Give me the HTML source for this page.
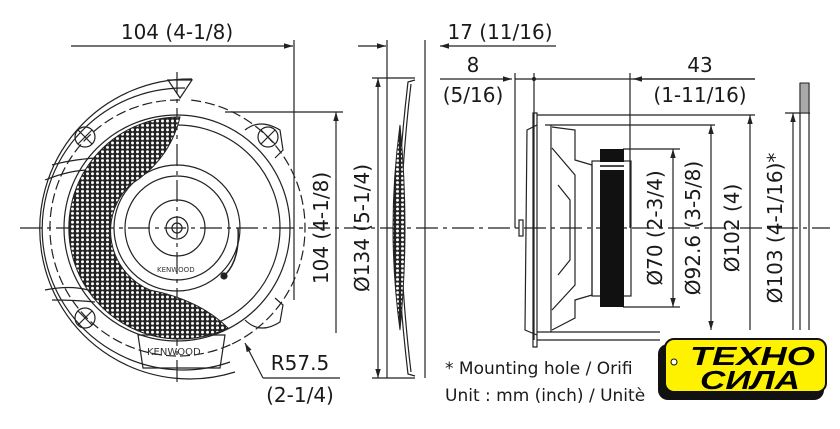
<!DOCTYPE html>
<html><head><meta charset="utf-8"><style>
html,body{margin:0;padding:0;background:#fff;width:840px;height:429px;overflow:hidden}
svg{display:block}
text{font-family:"DejaVu Sans","Liberation Sans",sans-serif;fill:#1a1a1a}
</style></head><body>
<svg width="840" height="429" viewBox="0 0 840 429" xmlns="http://www.w3.org/2000/svg">
<defs>
<pattern id="mesh" width="5" height="4.4" patternUnits="userSpaceOnUse">
<rect width="5" height="4.4" fill="#222"/>
<circle cx="2.5" cy="2.2" r="1.5" fill="#fff"/>
</pattern>
<marker id="ar" viewBox="0 0 10 10" refX="10" refY="5" markerWidth="9" markerHeight="9" orient="auto-start-reverse" markerUnits="userSpaceOnUse"><path d="M0,2 L10,5 L0,8z" fill="#222"/></marker>
</defs>
<g stroke="#222" fill="none" stroke-width="1.2">
<line x1="20" y1="228" x2="830" y2="228" stroke-dasharray="22,5,4,5"/>
<line x1="177" y1="72" x2="177" y2="382" stroke-dasharray="22,5,4,5"/>
<path d="M192,79 A150,150 0 1 0 235,372"/>
<path d="M185,88 A141,141 0 1 0 230,362"/>
<path d="M180,100 A128,128 0 1 0 232,344" stroke-dasharray="10,4"/>
<path d="M232,344 A128,128 0 0 0 305,228 A128,128 0 0 0 190,100" stroke-dasharray="10,4"/>
<circle cx="177" cy="228" r="113"/>
<circle cx="177" cy="228" r="103"/>
<circle cx="177" cy="228" r="63"/>
<circle cx="177" cy="228" r="52"/>
<circle cx="177" cy="228" r="28"/>
<circle cx="177" cy="228" r="11"/>
<circle cx="177" cy="228" r="5"/>
<path d="M168,80 L192,80 L180,98z"/>
<circle cx="85" cy="137" r="10"/><path d="M78,130 L92,144 M92,130 L78,144"/>
<circle cx="85" cy="318" r="10"/><path d="M78,311 L92,325 M92,311 L78,325"/>
<circle cx="268" cy="137" r="10"/><path d="M261,130 L275,144 M275,130 L261,144"/>
<path d="M245,130 Q260,118 280,130 L283,150 L275,158"/>
<path d="M245,320 Q260,335 280,322 L283,305 L275,298"/>
<path d="M138,335 L225,335 L220,368 L143,368z"/>
<path d="M238,228 Q240,260 225,275" stroke-width="1.5"/>
<circle cx="224" cy="276" r="3" fill="#222"/>
<path d="M52,165 Q70,160 95,158 M45,180 Q70,170 90,170 M45,290 Q70,285 88,290 M52,300 Q75,300 95,302"/>
</g>
<path d="M180,117 A111,111 0 1 0 228,328 Q200,300 150,290 A64,64 0 0 1 130,185 Q170,160 180,117z" fill="url(#mesh)" stroke="#222"/>
<text x="157" y="272" font-size="7" style="fill:#333">KENWOOD</text>
<text x="147" y="355" font-size="10" style="fill:#333">KENWOOD</text>
<g stroke="#222" stroke-width="1.2">
<line x1="71" y1="46" x2="293" y2="46" marker-end="url(#ar)"/>
<line x1="294" y1="40" x2="294" y2="300"/>
<line x1="225" y1="112" x2="343" y2="112"/>
<line x1="336" y1="112" x2="336" y2="333" marker-start="url(#ar)"/>
<line x1="245" y1="343" x2="263" y2="378" marker-start="url(#ar)"/>
<line x1="263" y1="378" x2="340" y2="378"/>
</g>
<text x="177" y="39" font-size="20" text-anchor="middle">104 (4-1/8)</text>
<text transform="translate(328,228) rotate(-90)" font-size="20" text-anchor="middle">104 (4-1/8)</text>
<text x="300" y="370" font-size="20" text-anchor="middle">R57.5</text>
<text x="300" y="402" font-size="20" text-anchor="middle">(2-1/4)</text>
<g stroke="#222" fill="none" stroke-width="1.2">
<line x1="372" y1="78" x2="415" y2="78"/>
<line x1="372" y1="378" x2="415" y2="378"/>
<line x1="378" y1="78" x2="378" y2="378" marker-start="url(#ar)" marker-end="url(#ar)"/>
<line x1="387" y1="40" x2="387" y2="378"/>
<line x1="358" y1="46" x2="386" y2="46" marker-end="url(#ar)"/>
<line x1="425" y1="40" x2="425" y2="378"/>
<line x1="440" y1="46" x2="556" y2="46" marker-start="url(#ar)"/>
<path d="M415,80 L408,82 Q400,150 396,228 Q400,306 408,374 L415,376"/>
<path d="M411,84 Q403,150 400,228 Q403,306 411,372"/>
</g>
<path d="M400,125 Q386,228 400,330 Q410,228 400,125z" fill="url(#mesh)" stroke="#222"/>
<text transform="translate(369,228) rotate(-90)" font-size="20" text-anchor="middle">Ø134 (5-1/4)</text>
<text x="500" y="39" font-size="20" text-anchor="middle">17 (11/16)</text>
<g stroke="#222" fill="none" stroke-width="1.2">
<line x1="440" y1="79" x2="512" y2="79" marker-end="url(#ar)"/>
<line x1="515" y1="73" x2="515" y2="228"/>
<line x1="534" y1="73" x2="534" y2="340"/>
<circle cx="534" cy="79" r="1.5" fill="#222"/>
<line x1="515" y1="79" x2="755" y2="79"/>
<line x1="755" y1="79" x2="633" y2="79" marker-end="url(#ar)"/>
<line x1="630" y1="73" x2="630" y2="228"/>
<path d="M533,113 L537,113 L537,347 L533,347z"/>
<line x1="537" y1="115" x2="755" y2="115"/>
<line x1="545" y1="125" x2="715" y2="125"/>
<line x1="537" y1="340" x2="660" y2="340"/>
<line x1="537" y1="332" x2="660" y2="332"/>
<path d="M537,125 L527,130 L525,330 L537,335"/>
<path d="M551,125 L551,332"/>
<path d="M552,127 L575,130 L575,160 L592,165 L592,295 L575,300 L575,318 L552,330"/>
<path d="M552,148 L575,175 L575,285 L552,310"/>
<path d="M558,185 L570,200 L570,260 L558,275"/>
<rect x="592" y="161" width="39" height="135"/>
<rect x="519" y="220" width="4" height="16"/>
<line x1="623" y1="149" x2="680" y2="149"/>
<line x1="623" y1="307" x2="680" y2="307"/>
<line x1="673" y1="149" x2="673" y2="307" marker-start="url(#ar)" marker-end="url(#ar)"/>
<line x1="711" y1="125" x2="711" y2="330" marker-start="url(#ar)" marker-end="url(#ar)"/>
<line x1="750" y1="115" x2="750" y2="330" marker-start="url(#ar)"/>
<line x1="785" y1="113" x2="810" y2="113"/>
<line x1="793" y1="113" x2="793" y2="330" marker-start="url(#ar)"/>
<line x1="800" y1="83" x2="800" y2="330"/>
<line x1="809" y1="83" x2="809" y2="330"/>
</g>
<rect x="600" y="149" width="24" height="158" fill="#111"/>
<rect x="600" y="162" width="24" height="8" fill="#fff"/>
<line x1="600" y1="166" x2="624" y2="166" stroke="#111" stroke-width="1.5"/>
<rect x="800" y="83" width="9" height="30" fill="#aaa" stroke="#222"/>
<text x="473" y="72" font-size="20" text-anchor="middle">8</text>
<text x="473" y="102" font-size="20" text-anchor="middle">(5/16)</text>
<text x="700" y="72" font-size="20" text-anchor="middle">43</text>
<text x="700" y="102" font-size="20" text-anchor="middle">(1-11/16)</text>
<text transform="translate(662,228) rotate(-90)" font-size="20" text-anchor="middle">Ø70 (2-3/4)</text>
<text transform="translate(700,228) rotate(-90)" font-size="20" text-anchor="middle">Ø92.6 (3-5/8)</text>
<text transform="translate(739,228) rotate(-90)" font-size="20" text-anchor="middle">Ø102 (4)</text>
<text transform="translate(782,228) rotate(-90)" font-size="20" text-anchor="middle">Ø103 (4-1/16)*</text>
<text x="445" y="374" font-size="17">* Mounting hole / Orifi</text>
<text x="445" y="401" font-size="17">Unit : mm (inch) / Unitè</text>
<rect x="658" y="344" width="166" height="56" rx="10" fill="#111"/>
<rect x="665" y="339" width="161" height="53" rx="9" fill="#fff200" stroke="#111" stroke-width="2"/>
<circle cx="674" cy="362" r="3" fill="#fff" stroke="#111"/>
<text x="690" y="365" font-size="26" font-weight="bold" font-style="italic" style="fill:#000;font-family:'Liberation Sans','DejaVu Sans',sans-serif" textLength="125" lengthAdjust="spacingAndGlyphs">ТЕХНО</text>
<text x="700" y="389" font-size="26" font-weight="bold" font-style="italic" style="fill:#000;font-family:'Liberation Sans','DejaVu Sans',sans-serif" textLength="100" lengthAdjust="spacingAndGlyphs">СИЛА</text>
</svg>
</body></html>
